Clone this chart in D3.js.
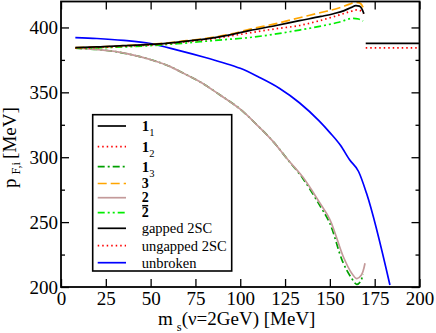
<!DOCTYPE html>
<html><head><meta charset="utf-8">
<script src="https://cdn.jsdelivr.net/npm/d3@7"></script>
<style>body{margin:0;background:#fff}svg{display:block}</style>
</head><body><svg id="c" width="436" height="333"></svg>
<script>
// ---- data (m_s [MeV], p_F,i [MeV]) ----
const xTickValues = [0,25,50,75,100,125,150,175,200];
const yTickValues = [200,250,300,350,400];
const yMinorTicks = [225,275,325,375];
const legendLabels = ["1_1","1_2","1_3","3","2","2bar","gapped 2SC","ungapped 2SC","unbroken"];

const s11 = [[8,384.5],[20,385],[35,386],[55,387.3],[70,389.5],[83,391.6],[95,394.5],[105,397.5],[120,401.5],[133,405.2],[145,408.5],[152,410.6],[158,413],[162,415.5],[164.5,416.8],[166.5,416.4],[168,414],[169,410.5]];
const s12 = [[8,384],[20,384.5],[35,385.5],[55,387],[70,389],[83,391],[95,393.5],[105,395.8],[120,399],[133,401.5],[145,405.5],[155,409.5],[162,412.5],[165,413.5],[167,413],[168.8,410.5]];
const s13 = [[8,384],[20,383],[30,381.5],[44,377.5],[55,373],[61,369.8],[70,363.5],[77.5,358.2],[88.7,348],[100,337],[110,324],[118.4,312],[126,299],[135,283.5],[144.5,262.5],[150,249],[157,220],[162,207],[165,202],[167,204],[168.5,210]];
const s3  = [[8,384.5],[20,385],[35,386],[55,387.5],[70,389.8],[83,392],[95,395],[105,398.5],[120,403],[133,407.5],[145,411.5],[155,415],[161,418],[164,419.3],[166.5,419],[168.3,416],[169,413.5]];
const s2  = [[8,384],[20,383],[30,381.5],[44,377.5],[55,373],[61,369.8],[70,363.5],[77.5,358.2],[88.7,348],[100,337],[110,324],[118.4,312],[126,299],[135,284.5],[144.5,264.5],[150,252],[157.5,223.3],[162,211],[165,206.5],[167.5,209],[169.6,218.3]];
const s2bar = [[8,384],[25,384.5],[50,386],[65,387.5],[77.5,389],[90,390.5],[105,392.2],[120,395],[133,398],[145,401],[155,404],[163,407],[166,406.5],[168.5,405]];
const gapped2SC   = [[170,387.8],[200,387.8]];
const ungapped2SC = [[170,384.2],[200,384.2]];
const unbroken = [[8,392.2],[20,391.5],[35,390],[50,387.5],[65,382.5],[80,377],[90,373],[100,368.5],[110,362],[122,353],[133,342],[144,328],[150,319],[156,309],[161,298],[166,289],[170.5,272],[183.5,201.5]];

const seriesData = [s11,s12,s13,s3,s2,s2bar,gapped2SC,ungapped2SC,unbroken];
const styles = [
  {c:"#000000", d:null},
  {c:"#ff0000", d:"1.5,3"},
  {c:"#00a000", d:"7,3,2,3"},
  {c:"#ffa500", d:"9,4"},
  {c:"#c49a9a", d:null},
  {c:"#00ee00", d:"7,3,2,3,2,3"},
  {c:"#000000", d:null},
  {c:"#ff0000", d:"1.5,3"},
  {c:"#0000ff", d:null}
];

const FONT = '"Liberation Serif"';
const svg = d3.select("#c");
const L=61, R=419.5, T=1.5, B=287;
const x = d3.scaleLinear().domain([0,200]).range([L,R]);
const y = d3.scaleLinear().domain([200,420]).range([B,T]);

svg.append("defs").append("clipPath").attr("id","clip")
  .append("rect").attr("x",L).attr("y",T).attr("width",R-L).attr("height",B-T);

const lineM = d3.line().x(d=>x(d[0])).y(d=>y(d[1])).curve(d3.curveMonotoneX);
const lineC = d3.line().x(d=>x(d[0])).y(d=>y(d[1])).curve(d3.curveCatmullRom);
const g = svg.append("g").attr("clip-path","url(#clip)");
const order=[8,2,4,5,1,3,0,6,7];
order.forEach(i=>{
  g.append("path").attr("d", (i===4||i===2) ? lineC(seriesData[i]) : lineM(seriesData[i]))
   .attr("fill","none").attr("stroke",styles[i].c).attr("stroke-width",1.7)
   .attr("stroke-dasharray",styles[i].d);
});

// axes
const fs=19;
const ax = svg.append("g").attr("transform",`translate(0,${B})`)
  .call(d3.axisBottom(x).tickValues(xTickValues).tickSizeInner(-8).tickSizeOuter(0).tickPadding(5).tickFormat(d3.format("d")));
const axT = svg.append("g").attr("transform",`translate(0,${T})`)
  .call(d3.axisTop(x).tickValues(xTickValues).tickSizeInner(-8).tickSizeOuter(0).tickFormat(""));
const ay = svg.append("g").attr("transform",`translate(${L},0)`)
  .call(d3.axisLeft(y).tickValues(yTickValues).tickSizeInner(-8).tickSizeOuter(0).tickPadding(3).tickFormat(d3.format("d")));
const ayR = svg.append("g").attr("transform",`translate(${R},0)`)
  .call(d3.axisRight(y).tickValues(yTickValues).tickSizeInner(-8).tickSizeOuter(0).tickFormat(""));
const ayM = svg.append("g").attr("transform",`translate(${L},0)`)
  .call(d3.axisLeft(y).tickValues(yMinorTicks).tickSizeInner(-4).tickSizeOuter(0).tickFormat(""));
const ayMR = svg.append("g").attr("transform",`translate(${R},0)`)
  .call(d3.axisRight(y).tickValues(yMinorTicks).tickSizeInner(-4).tickSizeOuter(0).tickFormat(""));
[ax,axT,ay,ayR,ayM,ayMR].forEach(a=>{
  a.select(".domain").remove();
  a.selectAll(".tick line").attr("stroke","#000").attr("stroke-width",1.3);
  a.selectAll("text").style("font-family",FONT).style("font-size",fs+"px").attr("fill","#000");
});
ay.selectAll("text").attr("dy","0.34em");
ax.selectAll("text").attr("dy","0.7em");
svg.append("rect").attr("x",L).attr("y",T).attr("width",R-L).attr("height",B-T)
  .attr("fill","none").attr("stroke","#000").attr("stroke-width",1.8);

// axis titles
const xt = svg.append("text").attr("x",158).attr("y",325).style("font-family",FONT).style("font-size",fs+"px").attr("fill","#000");
xt.append("tspan").text("m");
xt.append("tspan").attr("dx",4).attr("dy",6).style("font-size","12.5px").text("s");
xt.append("tspan").attr("dy",-6).text("(ν=2GeV) [MeV]");

const yt = svg.append("text").attr("transform","translate(16,188) rotate(-90)").style("font-family",FONT).style("font-size",fs+"px").attr("fill","#000");
yt.append("tspan").text("p");
yt.append("tspan").attr("dx",4).attr("dy",4).style("font-size","12.5px").text("F,i");
yt.append("tspan").attr("dy",-4).attr("dx",3).text("[MeV]");

// legend
const lg = svg.append("g");
lg.append("rect").attr("x",92.7).attr("y",114.7).attr("width",139).attr("height",156.3)
  .attr("fill","#fff").attr("stroke","#000").attr("stroke-width",1.6);
const rowY=[126,146.7,166.7,183.5,197.7,212.7,228.3,245.7,262.7];
legendLabels.forEach((lab,i)=>{
  lg.append("line").attr("x1",97.7).attr("x2",126).attr("y1",rowY[i]).attr("y2",rowY[i])
    .attr("stroke",styles[i].c).attr("stroke-width",1.7).attr("stroke-dasharray",styles[i].d);
  const t = lg.append("text").attr("x",141.7).attr("y",rowY[i]+4.8)
    .style("font-family",FONT).style("font-size","14.5px").attr("fill","#000");
  if (lab.startsWith("1_")) {
    t.append("tspan").style("font-weight","bold").style("font-size","15px").text("1");
    t.append("tspan").attr("dy",5).style("font-size","10.5px").text(lab.slice(2));
  } else if (lab==="3" || lab==="2") {
    t.attr("y",rowY[i]+4.6);
    t.append("tspan").style("font-weight","bold").style("font-size","14px").text(lab);
  } else if (lab==="2bar") {
    t.attr("y",rowY[i]+4.6);
    t.append("tspan").style("font-weight","bold").style("font-size","14px").text("2");
    const bb = t.node().getBBox();
    lg.append("line").attr("x1",bb.x+0.5).attr("x2",bb.x+bb.width-0.5)
      .attr("y1",rowY[i]-7).attr("y2",rowY[i]-7).attr("stroke","#000").attr("stroke-width",1.5);
  } else {
    t.text(lab);
  }
});
</script></body></html>
